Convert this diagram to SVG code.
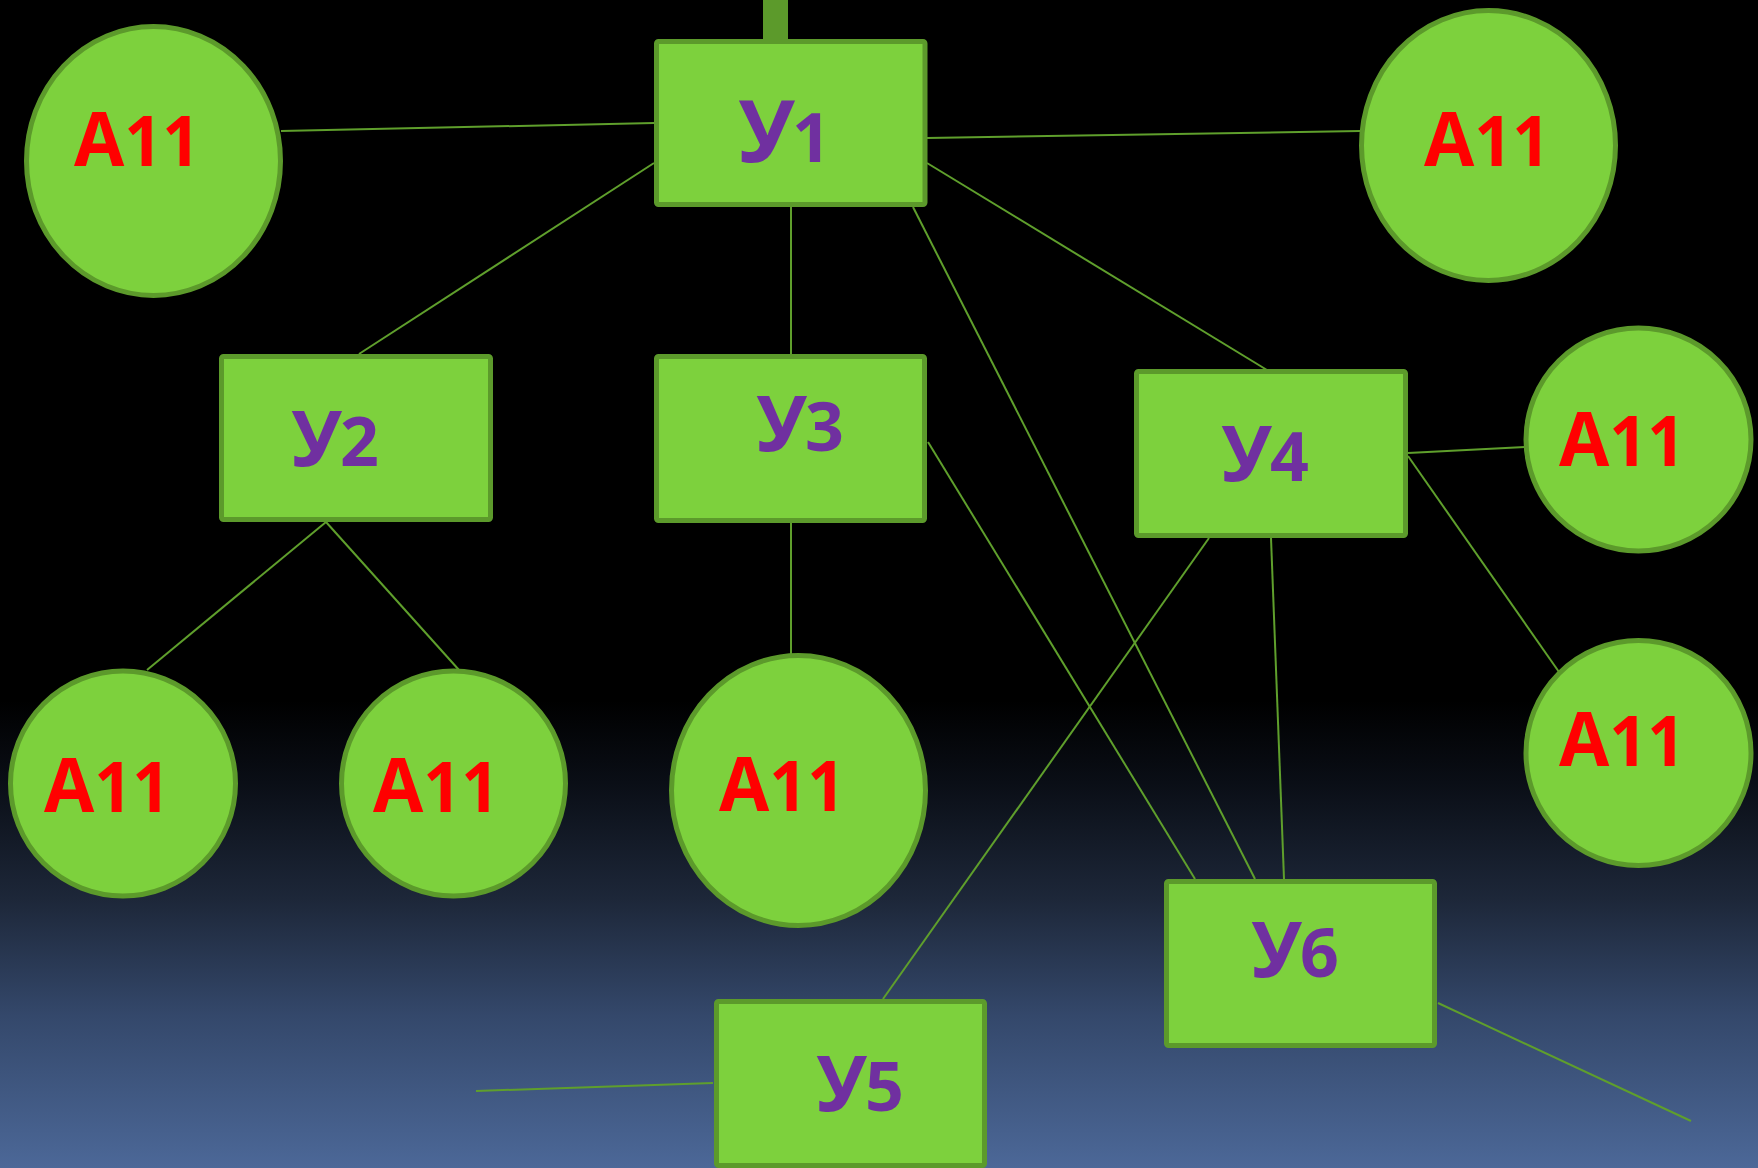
<svg xmlns="http://www.w3.org/2000/svg" width="1758" height="1168" viewBox="0 0 1758 1168">
<defs>
<linearGradient id="bg" x1="0" y1="0" x2="0" y2="1">
<stop offset="0" stop-color="#000000"/>
<stop offset="0.6" stop-color="#000000"/>
<stop offset="0.67" stop-color="#0a0e16"/>
<stop offset="0.77" stop-color="#1d2739"/>
<stop offset="0.87" stop-color="#34486b"/>
<stop offset="1" stop-color="#4c6898"/>
</linearGradient>
<style>
.node{fill:#7dd13d;stroke:#5c9a2b;stroke-width:5}
.conn line{stroke:#5f9f2c;stroke-width:2;fill:none}
.a{font-family:"Open Sans","Noto Sans","Liberation Sans",sans-serif;font-weight:700;fill:#ff0000}
.y{font-family:"Open Sans","Noto Sans","Liberation Sans",sans-serif;font-weight:700;fill:#7030a0;font-size:77px}
.d{font-family:"Open Sans","Noto Sans","Liberation Sans",sans-serif;font-weight:700;fill:#7030a0;font-size:68px}
</style>
</defs>
<rect x="0" y="0" width="1758" height="1168" fill="url(#bg)"/>
<rect x="763" y="0" width="25" height="42" fill="#5c9a2b"/>
<g id="connectors" class="conn">
<line x1="281" y1="131" x2="654" y2="123"/>
<line x1="927" y1="138" x2="1360" y2="131"/>
<line x1="654" y1="163" x2="359" y2="354"/>
<line x1="791" y1="207" x2="791" y2="354"/>
<line x1="927" y1="163" x2="1267" y2="370"/>
<line x1="913" y1="207" x2="1255" y2="879"/>
<line x1="326" y1="522" x2="147" y2="670"/>
<line x1="326" y1="522" x2="459" y2="670"/>
<line x1="791" y1="522" x2="791" y2="654"/>
<line x1="928" y1="442" x2="1195" y2="879"/>
<line x1="1408" y1="453" x2="1525" y2="447"/>
<line x1="1408" y1="456" x2="1559" y2="672"/>
<line x1="1209" y1="538" x2="883" y2="999"/>
<line x1="1271" y1="538" x2="1284" y2="879"/>
<line x1="476" y1="1091" x2="713" y2="1083"/>
<line x1="1438" y1="1003" x2="1691" y2="1121"/>
</g>
<g id="y1"><rect class="node" x="656.5" y="41.5" width="268.5" height="163" rx="2"/><text class="y" x="738" y="162" style="font-size:86px">У</text><text class="d" x="792" y="162">1</text></g>
<g id="y2"><rect class="node" x="221.5" y="356.5" width="269" height="163" rx="2"/><text class="y" x="291" y="466">У</text><text class="d" x="340" y="466">2</text></g>
<g id="y3"><rect class="node" x="656.5" y="356.5" width="268" height="164" rx="2"/><text class="y" x="756" y="451">У</text><text class="d" x="805" y="451">3</text></g>
<g id="y4"><rect class="node" x="1136.5" y="371.5" width="269" height="164" rx="2"/><text class="y" x="1221" y="481">У</text><text class="d" x="1270" y="481">4</text></g>
<g id="y5"><rect class="node" x="716.5" y="1001.5" width="268" height="164" rx="2"/><text class="y" x="816" y="1111">У</text><text class="d" x="865" y="1111">5</text></g>
<g id="y6"><rect class="node" x="1166.5" y="881.5" width="268" height="164" rx="2"/><text class="y" x="1251" y="977">У</text><text class="d" x="1300" y="977">6</text></g>
<g id="a-tl"><ellipse class="node" cx="153.5" cy="161" rx="127" ry="134.5"/><text class="a" x="74" y="166" textLength="126" lengthAdjust="spacingAndGlyphs"><tspan font-size="76">A</tspan><tspan font-size="69">11</tspan></text></g>
<g id="a-tr"><ellipse class="node" cx="1488.5" cy="145.5" rx="127" ry="135"/><text class="a" x="1424" y="166" textLength="126" lengthAdjust="spacingAndGlyphs"><tspan font-size="76">A</tspan><tspan font-size="69">11</tspan></text></g>
<g id="a-r1"><ellipse class="node" cx="1638.5" cy="439.5" rx="112.5" ry="111.5"/><text class="a" x="1559" y="466" textLength="126" lengthAdjust="spacingAndGlyphs"><tspan font-size="76">A</tspan><tspan font-size="69">11</tspan></text></g>
<g id="a-r2"><ellipse class="node" cx="1638.5" cy="753" rx="112.5" ry="112.5"/><text class="a" x="1559" y="766" textLength="126" lengthAdjust="spacingAndGlyphs"><tspan font-size="76">A</tspan><tspan font-size="69">11</tspan></text></g>
<g id="a-c1"><ellipse class="node" cx="123" cy="783.5" rx="112.5" ry="112.5"/><text class="a" x="44" y="812" textLength="126" lengthAdjust="spacingAndGlyphs"><tspan font-size="76">A</tspan><tspan font-size="69">11</tspan></text></g>
<g id="a-c2"><ellipse class="node" cx="453.5" cy="783.5" rx="112" ry="112.5"/><text class="a" x="373" y="812" textLength="126" lengthAdjust="spacingAndGlyphs"><tspan font-size="76">A</tspan><tspan font-size="69">11</tspan></text></g>
<g id="a-c3"><ellipse class="node" cx="798.5" cy="790.5" rx="127" ry="135"/><text class="a" x="719" y="811" textLength="126" lengthAdjust="spacingAndGlyphs"><tspan font-size="76">A</tspan><tspan font-size="69">11</tspan></text></g>
</svg>
